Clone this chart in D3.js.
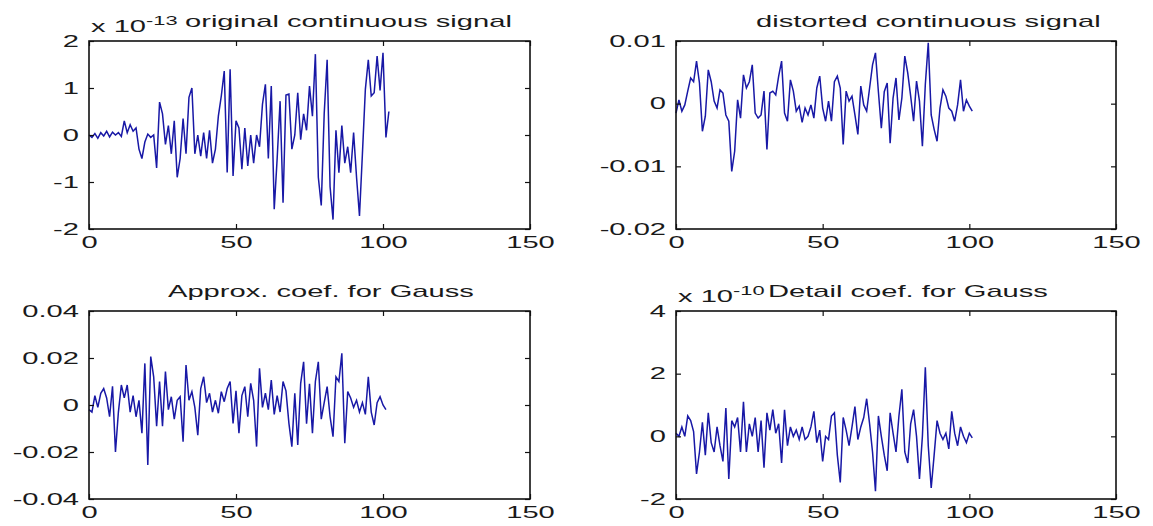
<!DOCTYPE html>
<html><head><meta charset="utf-8">
<script src="https://cdn.jsdelivr.net/npm/d3@7"></script>
<style>
body{margin:0;background:#fff;}
svg{display:block;}
text{font-family:"Liberation Sans",Arial,Helvetica,sans-serif;fill:#1a1a1a;}
</style>
</head><body>
<svg id="c" width="1153" height="526"></svg>
<script>
// ---------- data ----------
const xTickValues = [0, 50, 100, 150];

// original continuous signal, units of 1e-13
const originalSignal = [0.00,-0.05,0.03,-0.07,0.05,-0.02,0.08,-0.04,0.06,0.00,0.05,-0.03,0.30,0.05,0.22,0.08,0.15,-0.30,-0.50,-0.15,
0.02,-0.05,0.00,-0.70,0.70,0.45,-0.20,0.20,-0.40,0.30,-0.90,-0.50,0.35,-0.40,0.80,1.00,-0.40,0.00,-0.45,0.05,
-0.50,0.10,-0.60,-0.30,0.40,0.83,1.36,-0.80,1.40,-0.87,0.30,0.15,-0.73,0.15,-0.66,0.00,-0.60,0.00,-0.25,0.65,
1.08,-0.50,1.04,-1.58,-0.50,0.72,-1.44,0.85,0.87,-0.30,0.00,0.90,-0.10,0.45,0.10,1.04,0.40,1.72,-0.90,-1.50,
0.45,1.60,-1.10,-1.80,0.10,-0.80,0.20,-0.60,-0.25,-0.80,0.05,-0.90,-1.72,-0.40,0.97,1.60,0.83,0.90,1.68,0.95,
1.75,-0.05,0.50];

// distorted continuous signal, units of 1e-3
const distortedSignal = [-1.5,0.6,-1.2,-0.2,2.0,4.1,3.5,6.8,3.3,-4.4,-2.0,5.4,3.5,0.4,-0.7,2.2,1.7,-1.8,-2.8,-10.8,
-7.6,0.6,-2.3,4.6,2.5,3.5,6.2,-1.5,-2.3,-1.8,2.0,-7.3,1.7,2.0,1.4,4.4,6.8,-1.5,-2.8,3.8,
2.0,-1.2,-0.4,-3.0,-0.7,-1.8,-0.2,-2.3,2.5,4.4,-0.7,-2.8,0.4,-2.8,3.5,4.4,2.5,-6.5,2.0,0.4,
1.2,-1.8,-4.9,2.8,-0.2,-1.2,2.5,6.2,8.1,1.9,-3.9,1.9,3.3,-6.3,0.9,4.1,-2.6,0.9,7.6,4.9,
1.2,-2.8,3.6,0.4,-6.8,3.1,9.7,-1.8,-4.1,-6.0,-0.7,2.2,1.2,-0.7,-1.2,-2.8,-0.2,3.8,-1.2,0.6,
-0.4,-1.2];

// approximation coefficients, units of 1e-3
const approxCoef = [-2,-3,4,-1,5,7,3,-5,8,-20,-3,8.5,3,8.5,-3,4,-5,2,-12,17.7,
-25.5,20.6,12,-9,10,-9,14.2,-2,3.5,-6,2,3.5,-15.6,17,2,5.7,-1,-12.8,7,12,
1,5,-3,2,-3.5,5.7,1.4,7,10,-7.8,6,-12,4,7.8,-5,9.2,2,-17.7,15.6,-1,
5,-2,10.6,-4,4,-3,10,6,-7.8,-17.7,5,-17,9.2,18.4,-8,9,-12,10,18.4,-6,
1,7.8,-5,-13.5,12,10,22,-16.3,5.7,3,-1,2,-3,1,-4,12,-3,-8.5,1,3.5,
0,-2];

// detail coefficients, units of 1e-10
const detailCoef = [0.1,0.0,0.3,0.0,0.65,0.5,0.15,-1.2,-0.5,0.45,-0.6,0.75,-0.2,-0.5,0.3,-0.3,-0.8,0.9,-1.36,0.5,
0.3,0.6,-0.5,1.1,-0.5,0.4,0.0,0.6,-0.5,0.5,-1.0,0.75,0.2,0.85,0.1,0.4,-0.85,0.85,-0.3,0.3,
0.0,0.2,-0.1,0.3,-0.1,0.0,0.3,0.8,-0.2,0.2,-0.8,0.0,-0.1,0.65,0.75,-0.6,-1.47,0.6,0.2,-0.3,
0.3,0.95,-0.1,0.3,0.6,1.2,0.4,-0.5,-1.75,0.65,0.0,-0.6,-1.1,0.75,0.1,-0.5,0.65,1.5,-0.5,-0.85,
0.4,0.85,0.0,-1.36,0.0,2.2,-0.3,-1.65,-0.6,0.5,0.1,-0.1,0.1,-0.4,0.8,0.1,-0.3,0.3,0.0,-0.2,
0.1,-0.05];

const yTicks1 = [-2, -1, 0, 1, 2];
const yTicks2 = [-0.02, -0.01, 0, 0.01];
const yTicks3 = [-0.04, -0.02, 0, 0.02, 0.04];
const yTicks4 = [-2, 0, 2, 4];

const titles = ["original continuous signal", "distorted continuous signal", "Approx. coef. for Gauss", "Detail coef. for Gauss"];
const exponents = ["-13", null, null, "-10"];

// ---------- layout ----------
const SX = 1.82;         // horizontal glyph stretch of the reference
const FS = 16;
const panels = [
  {data: originalSignal,  k: 1,    yDomain: [-2, 2],       yTicks: yTicks1, L: 89,  R: 530,  T: 41,  B: 229, title: titles[0], exp: exponents[0], tx: 185},
  {data: distortedSignal, k: 1e-3, yDomain: [-0.02, 0.01], yTicks: yTicks2, L: 676, R: 1116, T: 41,  B: 229, title: titles[1], exp: exponents[1], tx: 756},
  {data: approxCoef,      k: 1e-3, yDomain: [-0.04, 0.04], yTicks: yTicks3, L: 89,  R: 530,  T: 311, B: 499, title: titles[2], exp: exponents[2], tx: 168},
  {data: detailCoef,      k: 1,    yDomain: [-2, 4],       yTicks: yTicks4, L: 676, R: 1116, T: 311, B: 499, title: titles[3], exp: exponents[3], tx: 768}
];

const svg = d3.select("#c");
svg.append("rect").attr("width",1153).attr("height",526).attr("fill","#fff");

panels.forEach(p => {
  const x = d3.scaleLinear().domain([0, 150]).range([p.L, p.R]);
  const y = d3.scaleLinear().domain(p.yDomain).range([p.B, p.T]);
  const g = svg.append("g");

  // line
  const pts = p.data.map((v, i) => [i, v * p.k]);
  g.append("path").datum(pts)
    .attr("d", d3.line().x(d => x(d[0])).y(d => y(d[1])))
    .attr("fill", "none").attr("stroke", "#1818a6").attr("stroke-width", 1.5)
    .attr("stroke-linejoin", "miter");

  const fmt = d => String(d);
  const padB = 8, padL = 10;
  // bottom
  const gb = g.append("g").attr("transform", `translate(0,${p.B})`)
    .call(d3.axisBottom(x).tickValues(xTickValues).tickSizeInner(-5).tickSizeOuter(0).tickPadding(padB).tickFormat(fmt));
  gb.selectAll("text").attr("transform", `scale(${SX},1)`).style("font-size", FS + "px").attr("fill", "#1a1a1a");
  // left
  const gl = g.append("g").attr("transform", `translate(${p.L},0)`)
    .call(d3.axisLeft(y).tickValues(p.yTicks).tickSizeInner(-5).tickSizeOuter(0).tickPadding(padL).tickFormat(fmt));
  gl.selectAll("text").attr("x", -padL / SX).attr("transform", `scale(${SX},1)`).style("font-size", FS + "px").attr("fill", "#1a1a1a");
  // top & right (ticks only)
  g.append("g").attr("transform", `translate(0,${p.T})`)
    .call(d3.axisTop(x).tickValues(xTickValues).tickSizeInner(-5).tickSizeOuter(0).tickFormat(""));
  g.append("g").attr("transform", `translate(${p.R},0)`)
    .call(d3.axisRight(y).tickValues(p.yTicks).tickSizeInner(-5).tickSizeOuter(0).tickFormat(""));
  g.selectAll(".domain").remove();
  g.selectAll(".tick line").attr("stroke", "#111").attr("stroke-width", 1.2);

  // box
  g.append("rect").attr("x", p.L).attr("y", p.T).attr("width", p.R - p.L).attr("height", p.B - p.T)
    .attr("fill", "none").attr("stroke", "#111").attr("stroke-width", 1.6);

  // title
  g.append("text").attr("transform", `translate(${p.tx},${p.T - 14}) scale(${SX},1)`)
    .attr("text-anchor", "start").style("font-size", FS + "px").text(p.title);

  // exponent
  if (p.exp) {
    const t = g.append("text").attr("transform", `translate(${p.L + 2},${p.T - 9}) scale(${SX},1)`)
      .style("font-size", FS + "px");
    t.append("tspan").text("x 10");
    t.append("tspan").attr("dy", -7).style("font-size", "12px").text(p.exp);
  }
});
</script>
</body></html>
